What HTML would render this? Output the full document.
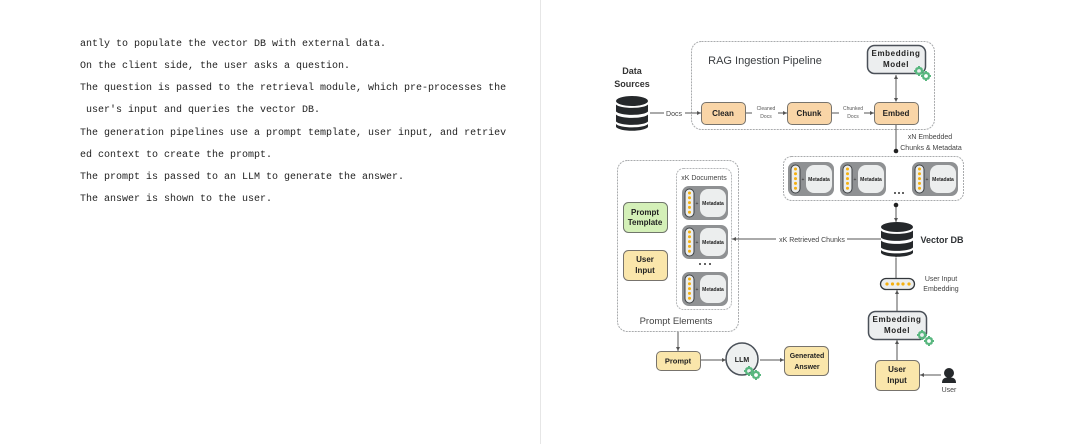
<!DOCTYPE html>
<html>
<head>
<meta charset="utf-8">
<style>
html,body{margin:0;padding:0;background:#fff;}
body{width:1080px;height:444px;overflow:hidden;position:relative;}
.divider{position:absolute;left:540px;top:0;width:1px;height:444px;background:#e6e6e6;}
.t{position:absolute;left:80px;font:10px/14px "Liberation Mono",monospace;color:#222;white-space:pre;filter:blur(.2px);}
svg{position:absolute;left:0;top:0;filter:blur(.35px);}
svg text{font-family:"Liberation Sans",sans-serif;text-anchor:middle;}
</style>
</head>
<body>
<div class="divider"></div>
<div class="t" style="top:38px">antly to populate the vector DB with external data.</div>
<div class="t" style="top:60px">On the client side, the user asks a question.</div>
<div class="t" style="top:82px">The question is passed to the retrieval module, which pre-processes the</div>
<div class="t" style="top:104px"> user's input and queries the vector DB.</div>
<div class="t" style="top:127px">The generation pipelines use a prompt template, user input, and retriev</div>
<div class="t" style="top:149px">ed context to create the prompt.</div>
<div class="t" style="top:171px">The prompt is passed to an LLM to generate the answer.</div>
<div class="t" style="top:193px">The answer is shown to the user.</div>

<svg width="1080" height="444" viewBox="0 0 1080 444" xmlns="http://www.w3.org/2000/svg">
<defs>
<marker id="a" markerWidth="5" markerHeight="5" refX="4" refY="2.5" orient="auto" markerUnits="userSpaceOnUse"><path d="M0 .5L4 2.5L0 4.5Z" fill="#555"/></marker>
<marker id="b" markerWidth="5" markerHeight="5" refX="1" refY="2.5" orient="auto" markerUnits="userSpaceOnUse"><path d="M4 .5L0 2.5L4 4.5Z" fill="#555"/></marker>
<g id="card">
<rect x="0" y="0" width="46" height="34" rx="7" fill="#8f9193"/>
<rect x="3" y="3" width="9" height="28" rx="4.5" fill="#eceeee" stroke="#3c4043" stroke-width="1"/>
<g fill="#f5b010"><circle cx="7.500" cy="7" r="1.500"/><circle cx="7.500" cy="11.800" r="1.500"/><circle cx="7.500" cy="16.600" r="1.500"/><circle cx="7.500" cy="21.400" r="1.500"/><circle cx="7.500" cy="26.200" r="1.500"/></g>
<text x="15" y="19" font-size="5" fill="#333">+</text>
<rect x="18" y="3" width="26" height="28" rx="8" fill="#eceeee"/>
<text x="31" y="19" font-size="5" font-weight="bold" fill="#222">Metadata</text>
</g>
<g id="gear" fill="#59b77f">
<circle cx="0" cy="0" r="3" fill="none" stroke="#59b77f" stroke-width="2.200"/>
<path d="M-1 -5H1V-3H-1ZM-1 3H1V5H-1ZM-5 -1H-3V1H-5ZM3 -1H5V1H3ZM-3.800 -2.400L-2.400 -3.800L-1.400 -2.800L-2.800 -1.400ZM2.800 1.400L3.800 2.400L2.400 3.800L1.400 2.800ZM2.400 -3.800L3.800 -2.400L2.800 -1.400L1.400 -2.800ZM-2.400 3.800L-3.800 2.400L-2.800 1.400L-1.400 2.800Z"/>
</g>
<g id="db">
<ellipse cx="16" cy="5" rx="16" ry="5" fill="#25282b"/>
<path d="M0 8.500C4 13 28 13 32 8.500V15.500C28 20 4 20 0 15.500Z" fill="#25282b"/>
<path d="M0 18.500C4 23 28 23 32 18.500V25.500C28 30 4 30 0 25.500Z" fill="#25282b"/>
<path d="M0 28C4 32.500 28 32.500 32 28V31C28 36 4 36 0 31Z" fill="#25282b"/>
</g>
</defs>

<!-- Ingestion container -->
<rect x="691.500" y="41.500" width="243" height="88" rx="10" fill="#fff" stroke="#a9abad" stroke-width="1" stroke-dasharray="2 1"/>
<text x="765" y="64" font-size="11" fill="#3a3d40">RAG Ingestion Pipeline</text>

<text x="632" y="74" font-size="9" font-weight="bold" fill="#333">Data</text>
<text x="632" y="87" font-size="9" font-weight="bold" fill="#333">Sources</text>
<use href="#db" x="616" y="96"/>

<!-- Prompt elements -->
<rect x="617.500" y="160.500" width="121" height="171" rx="10" fill="#fff" stroke="#a9abad" stroke-dasharray="2 1"/>
<rect x="676.500" y="168.500" width="55" height="141" rx="7" fill="#fff" stroke="#b5b7b9" stroke-dasharray="2 1"/>

<!-- Connectors -->
<g stroke="#555" stroke-width="1" fill="none">
<path d="M650 113H664"/><path d="M685 113H701" marker-end="url(#a)"/>
<path d="M746 113H752"/><path d="M778 113H787" marker-end="url(#a)"/>
<path d="M832 113H839"/><path d="M864 113H874" marker-end="url(#a)"/>
<path d="M896 101V75" marker-start="url(#b)" marker-end="url(#a)"/>
<path d="M896 125V150"/>
<path d="M896 205V222" marker-end="url(#a)"/>
<path d="M896 258V278" marker-start="url(#a)"/>
<path d="M897 311V290" marker-end="url(#a)"/>
<path d="M897 360V340" marker-end="url(#a)"/>
<path d="M941 375H920" marker-end="url(#a)"/>
<path d="M847 239H881"/>
<path d="M776 239H732" marker-end="url(#a)"/>
<path d="M678 332V351" marker-end="url(#a)"/>
<path d="M701 360H726" marker-end="url(#a)"/>
<path d="M760 360H784" marker-end="url(#a)"/>
</g>
<circle cx="896" cy="151" r="2.300" fill="#222"/>
<circle cx="896" cy="205" r="2.300" fill="#222"/>

<text x="674" y="116" font-size="7" fill="#444">Docs</text>
<text x="766" y="110" font-size="5" fill="#555">Cleaned</text>
<text x="766" y="118" font-size="5" fill="#555">Docs</text>
<text x="853" y="110" font-size="5" fill="#555">Chunked</text>
<text x="853" y="118" font-size="5" fill="#555">Docs</text>

<!-- Pipeline boxes -->
<g stroke="#77736c" stroke-width="1">
<rect x="701.500" y="102.500" width="44" height="22" rx="4.500" fill="#f9d5a7"/>
<rect x="787.500" y="102.500" width="44" height="22" rx="4.500" fill="#f9d5a7"/>
<rect x="874.500" y="102.500" width="44" height="22" rx="4.500" fill="#f9d5a7"/>
</g>
<g font-size="8" font-weight="bold" fill="#222">
<text x="723" y="116">Clean</text>
<text x="809" y="116">Chunk</text>
<text x="896" y="116">Embed</text>
</g>

<rect x="867.500" y="45.500" width="58" height="28" rx="7" fill="#eceeef" stroke="#4a5058" stroke-width="1.500"/>
<text x="896" y="56" font-size="8" font-weight="bold" letter-spacing=".6" fill="#222">Embedding</text>
<text x="896" y="67" font-size="8" font-weight="bold" letter-spacing=".6" fill="#222">Model</text>
<use href="#gear" x="919" y="71"/>
<use href="#gear" x="926" y="76"/>

<text x="930" y="139" font-size="7" fill="#444">xN Embedded</text>
<text x="931" y="150" font-size="7" fill="#444">Chunks &amp; Metadata</text>

<!-- Embedded chunks -->
<rect x="783.500" y="156.500" width="180" height="44" rx="8" fill="#fff" stroke="#a9abad" stroke-dasharray="2 1"/>
<use href="#card" x="788" y="162"/>
<use href="#card" x="840" y="162"/>
<use href="#card" x="912" y="162"/>
<g fill="#333"><circle cx="895" cy="193" r="1"/><circle cx="899" cy="193" r="1"/><circle cx="903" cy="193" r="1"/></g>

<!-- Vector DB -->
<use href="#db" x="881" y="222"/>
<text x="942" y="243" font-size="9" font-weight="bold" fill="#2f3235">Vector DB</text>
<text x="812" y="242" font-size="7" fill="#444">xK Retrieved Chunks</text>

<!-- Prompt elements content -->
<text x="704" y="180" font-size="7" fill="#444">xK Documents</text>
<use href="#card" x="682" y="186"/>
<use href="#card" x="682" y="225"/>
<use href="#card" x="682" y="272"/>
<g fill="#333"><circle cx="700" cy="264" r="1"/><circle cx="705" cy="264" r="1"/><circle cx="710" cy="264" r="1"/></g>
<rect x="623.500" y="202.500" width="44" height="30" rx="5" fill="#d4f0b8" stroke="#70766b"/>
<text x="645" y="215" font-size="8" font-weight="bold" fill="#222">Prompt</text>
<text x="645" y="225" font-size="8" font-weight="bold" fill="#222">Template</text>
<rect x="623.500" y="250.500" width="44" height="30" rx="5" fill="#fae6ab" stroke="#77736c"/>
<text x="645" y="262" font-size="8" font-weight="bold" fill="#222">User</text>
<text x="645" y="273" font-size="8" font-weight="bold" fill="#222">Input</text>
<text x="676" y="324" font-size="9.500" fill="#444">Prompt Elements</text>

<!-- Bottom generation -->
<rect x="656.500" y="351.500" width="44" height="19" rx="4.500" fill="#fae6ab" stroke="#77736c"/>
<text x="678" y="363.500" font-size="7.500" font-weight="bold" fill="#222">Prompt</text>
<circle cx="742" cy="359" r="16" fill="#eef0f0" stroke="#4a5058" stroke-width="1.500"/>
<text x="742" y="362" font-size="7" font-weight="bold" fill="#222">LLM</text>
<use href="#gear" x="749" y="371"/>
<use href="#gear" x="756" y="375"/>
<rect x="784.500" y="346.500" width="44" height="29" rx="5" fill="#fae6ab" stroke="#77736c"/>
<text x="807" y="358" font-size="7" font-weight="bold" fill="#222">Generated</text>
<text x="807" y="369" font-size="7" font-weight="bold" fill="#222">Answer</text>

<!-- Query path -->
<rect x="880.500" y="278.500" width="34" height="11" rx="5.500" fill="#eceeee" stroke="#33373b" stroke-width="1.300"/>
<g fill="#f5b010"><circle cx="887" cy="284" r="1.600"/><circle cx="892.500" cy="284" r="1.600"/><circle cx="898" cy="284" r="1.600"/><circle cx="903" cy="284" r="1.600"/><circle cx="909" cy="284" r="1.600"/></g>
<text x="941" y="281" font-size="7" fill="#444">User Input</text>
<text x="941" y="291" font-size="7" fill="#444">Embedding</text>
<rect x="868.500" y="311.500" width="58" height="28" rx="7" fill="#eceeef" stroke="#4a5058" stroke-width="1.500"/>
<text x="897" y="322" font-size="8" font-weight="bold" letter-spacing=".6" fill="#222">Embedding</text>
<text x="897" y="333" font-size="8" font-weight="bold" letter-spacing=".6" fill="#222">Model</text>
<use href="#gear" x="922" y="335"/>
<use href="#gear" x="929" y="341"/>
<rect x="875.500" y="360.500" width="44" height="30" rx="5" fill="#fae6ab" stroke="#77736c"/>
<text x="897" y="372" font-size="8" font-weight="bold" fill="#222">User</text>
<text x="897" y="383" font-size="8" font-weight="bold" fill="#222">Input</text>
<circle cx="949" cy="373" r="5" fill="#25282b"/>
<path d="M942 383C942 378 945 377.500 949 377.500C953 377.500 956 378 956 383Z" fill="#25282b"/>
<text x="949" y="392" font-size="7" fill="#444">User</text>
</svg>
</body>
</html>
